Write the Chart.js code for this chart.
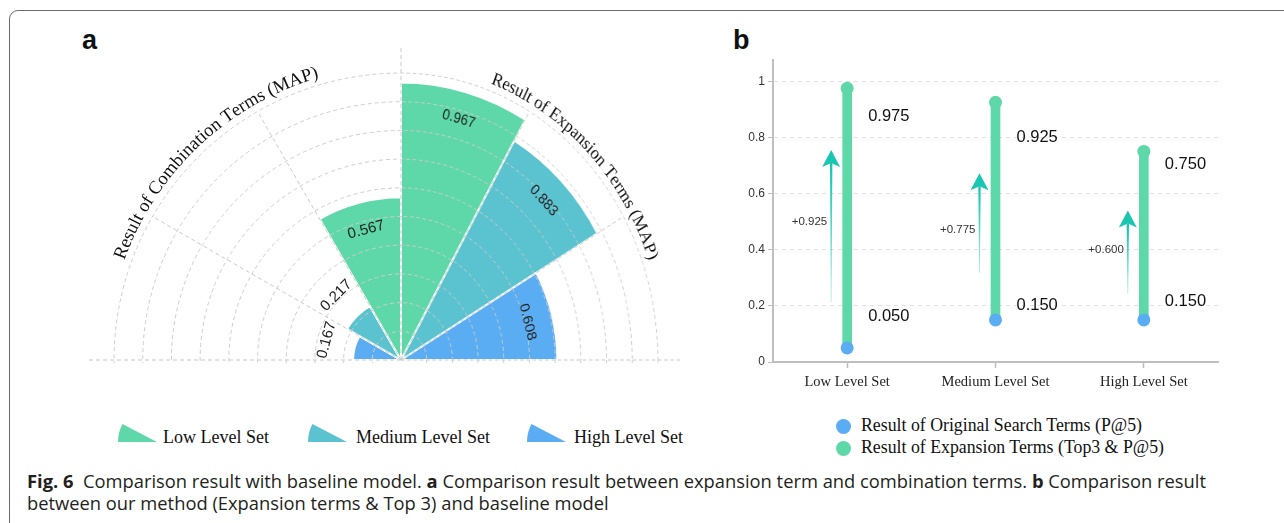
<!DOCTYPE html>
<html>
<head>
<meta charset="utf-8">
<script src="https://cdn.jsdelivr.net/npm/chart.js@4.4.1/dist/chart.umd.min.js"></script>
<style>
  html, body { margin: 0; padding: 0; background: #fff; }
  body { width: 1284px; height: 523px; position: relative; overflow: hidden; font-family: "Liberation Sans", Arial, sans-serif; }
  .frame { position: absolute; left: 9px; top: 10px; width: 1320px; height: 600px; border: 1.6px solid #6b6b6b; border-radius: 9px; box-sizing: border-box; }
  .tag { position: absolute; font: bold 27px "Liberation Sans", Arial, sans-serif; line-height: 27px; color: #111; }
  .half { position: absolute; top: 30px; height: 333px; overflow: hidden; }
  .half canvas { position: absolute; top: 0; }
  #dumbbell { position: absolute; left: 733px; top: 50px; }
  .leg { position: absolute; font-family: "Liberation Serif", "Times New Roman", serif; color: #111; white-space: nowrap; line-height: 1; }
  .leg svg { position: absolute; }
  .dot { position: absolute; width: 15px; height: 15px; border-radius: 50%; }
  .caption { position: absolute; left: 27px; top: 470px; font-family: "Open Sans", "Noto Sans", sans-serif; color: #231f20; white-space: nowrap; line-height: 22px; }
  .caption b { font-weight: 700; }
</style>
</head>
<body>
<div class="frame"></div>
<div class="tag" style="left:82px; top:27px;">a</div>
<div class="tag" style="left:733px; top:27px;">b</div>

<div class="half" style="left:71px; width:330px;"><canvas id="polarLeft" width="660" height="660" style="left:0;"></canvas></div>
<div class="half" style="left:401px; width:340px; transform:scaleX(0.895); transform-origin:0 0;"><canvas id="polarRight" width="660" height="660" style="left:-330px;"></canvas></div>

<canvas id="dumbbell" width="497" height="352"></canvas>

<div id="legendA"></div>
<div id="legendB"></div>

<div class="caption">
  <span id="cap1"><b>Fig. 6</b>&nbsp; Comparison result with baseline model. <b>a</b> Comparison result between expansion term and combination terms. <b>b</b> Comparison result</span><br>
  <span>between our method (Expansion terms &amp; Top 3) and baseline model</span>
</div>

<script>
// categories
const levelSets = ['Low Level Set', 'Medium Level Set', 'High Level Set'];
const levelColors = ['#5fd8a9', '#5bc3cf', '#5aadf2'];

// panel a: MAP per level set
const combinationMAP = [0.567, 0.217, 0.167];
const expansionMAP = [0.967, 0.883, 0.608];
const combinationTitle = 'Result of Combination Terms (MAP)';
const expansionTitle = 'Result of Expansion Terms (MAP)';

// panel b: P@5 per level set
const originalP5 = [0.050, 0.150, 0.150];
const expansionP5 = [0.975, 0.925, 0.750];
const originalLegend = 'Result of Original Search Terms (P@5)';
const expansionLegend = 'Result of Expansion Terms (Top3 & P@5)';
// annotation anchors (value units)
const arrowTail = [0.213, 0.316, 0.241];
const arrowTip = [0.755, 0.672, 0.540];
const gainLabelAt = [0.500, 0.472, 0.398];
const expLabelAt = [0.873, 0.799, 0.703];
const origLabelAt = [0.163, 0.202, 0.215];
const yTicks = [0, 0.2, 0.4, 0.6, 0.8, 1];

// polar order, left to right: combination (high..low) then expansion (low..high)
const polarValues = combinationMAP.slice().reverse().concat(expansionMAP);
const polarColors = levelColors.slice().reverse().concat(levelColors);
const polarLabels = levelSets.slice().reverse().map(s => 'Combination ' + s)
  .concat(levelSets.map(s => 'Expansion ' + s));

function drawArcText(ctx, text, cx, cy, radius, center) {
  const total = ctx.measureText(text).width;
  let a = center - total / radius / 2;
  for (const ch of text) {
    const w = ctx.measureText(ch).width;
    const ang = a + w / 2 / radius;
    ctx.save();
    ctx.translate(cx + radius * Math.cos(ang), cy + radius * Math.sin(ang));
    ctx.rotate(ang + Math.PI / 2);
    ctx.fillText(ch, 0, 0);
    ctx.restore();
    a += w / radius;
  }
}

const polarDecor = {
  id: 'polarDecor',
  afterDraw(chart) {
    const ctx = chart.ctx;
    const r = chart.scales.r;
    const cx = r.xCenter, cy = r.yCenter;
    const arcs = chart.getDatasetMeta(0).data;
    const ring = r.getDistanceFromCenterForValue(1);
    const axisEnd = r.getDistanceFromCenterForValue(1.09);

    // spokes at the slice edges, axes a bit longer
    ctx.save();
    ctx.strokeStyle = '#c9c9c9';
    ctx.lineWidth = 1;
    ctx.setLineDash([4, 3]);
    const edges = arcs.map(a => a.startAngle).concat(arcs[arcs.length - 1].endAngle);
    edges.forEach(ang => {
      const len = Math.abs(Math.sin(2 * ang)) < 1e-6 ? axisEnd : ring;
      ctx.beginPath();
      ctx.moveTo(cx, cy);
      ctx.lineTo(cx + len * Math.cos(ang), cy + len * Math.sin(ang));
      ctx.stroke();
    });
    ctx.restore();

    // value labels
    ctx.save();
    ctx.font = '15px "Liberation Sans", Arial, sans-serif';
    ctx.fillStyle = '#222';
    ctx.textAlign = 'center';
    ctx.textBaseline = 'middle';
    arcs.forEach((a, i) => {
      const mid = (a.startAngle + a.endAngle) / 2;
      const rl = a.outerRadius > 80 ? a.outerRadius - 28 : a.outerRadius + 29;
      ctx.save();
      ctx.translate(cx + rl * Math.cos(mid), cy + rl * Math.sin(mid));
      ctx.rotate(mid + Math.PI / 2);
      ctx.fillText(polarValues[i].toFixed(3), 0, 0);
      ctx.restore();
    });
    ctx.restore();

    // curved axis titles
    ctx.save();
    ctx.font = '18.5px "Liberation Serif", "Times New Roman", serif';
    ctx.fillStyle = '#111';
    ctx.textAlign = 'center';
    ctx.textBaseline = 'alphabetic';
    const titleR = r.getDistanceFromCenterForValue(1.025);
    const midOf = a => (a.startAngle + a.endAngle) / 2;
    const nudge = 1.7 * Math.PI / 180;
    drawArcText(ctx, combinationTitle, cx, cy, titleR, midOf(arcs[1]) + nudge);
    drawArcText(ctx, expansionTitle, cx, cy, titleR, midOf(arcs[4]));
    ctx.restore();
  }
};

function polarConfig() {
  return {
    type: 'polarArea',
    data: {
      labels: polarLabels,
      datasets: [{
        data: polarValues,
        backgroundColor: polarColors,
        borderColor: '#fff',
        borderWidth: 2,
        angle: 30
      }]
    },
    options: {
      responsive: false,
      animation: false,
      plugins: { legend: { display: false }, tooltip: { enabled: false } },
      scales: {
        r: {
          min: 0,
          max: 1.15,
          startAngle: -90,
          ticks: { display: false, stepSize: 0.1 },
          afterBuildTicks: s => { s.ticks = s.ticks.filter(t => t.value <= 1.0001); },
          grid: { color: '#cdcdcd', lineWidth: 1, z: 1 },
          border: { dash: [4, 3] },
          angleLines: { display: false },
          pointLabels: { display: false }
        }
      }
    },
    plugins: [polarDecor]
  };
}

new Chart(document.getElementById('polarLeft'), polarConfig());
new Chart(document.getElementById('polarRight'), polarConfig());

function drawArrow(ctx, x, yTail, yTip, color) {
  const headLen = 17, headHalf = 9, notch = 4;
  const yBase = yTip + headLen;
  const grad = ctx.createLinearGradient(0, yBase, 0, yTail);
  grad.addColorStop(0, color);
  grad.addColorStop(1, 'rgba(25,198,178,0.35)');
  ctx.fillStyle = grad;
  ctx.beginPath();
  ctx.moveTo(x - 1.2, yBase - notch);
  ctx.lineTo(x + 1.2, yBase - notch);
  ctx.lineTo(x + 0.35, yTail);
  ctx.lineTo(x - 0.35, yTail);
  ctx.closePath();
  ctx.fill();
  ctx.fillStyle = color;
  ctx.beginPath();
  ctx.moveTo(x, yTip);
  ctx.lineTo(x + headHalf, yBase);
  ctx.lineTo(x, yBase - notch);
  ctx.lineTo(x - headHalf, yBase);
  ctx.closePath();
  ctx.fill();
}

const dumbbellNotes = {
  id: 'dumbbellNotes',
  afterDatasetsDraw(chart) {
    const { ctx, scales: { x, y } } = chart;
    ctx.save();
    levelSets.forEach((name, i) => {
      const cx = x.getPixelForValue(i);
      const ax = cx - 16;
      drawArrow(ctx, ax, y.getPixelForValue(arrowTail[i]), y.getPixelForValue(arrowTip[i]), '#19c6b2');
      ctx.textBaseline = 'middle';
      ctx.font = '11.5px "Liberation Sans", Arial, sans-serif';
      ctx.fillStyle = '#333';
      ctx.textAlign = 'right';
      ctx.fillText('+' + (expansionP5[i] - originalP5[i]).toFixed(3), ax - 4, y.getPixelForValue(gainLabelAt[i]));
      ctx.font = '16.5px "Liberation Sans", Arial, sans-serif';
      ctx.fillStyle = '#111';
      ctx.textAlign = 'left';
      ctx.fillText(expansionP5[i].toFixed(3), cx + 21, y.getPixelForValue(expLabelAt[i]));
      ctx.fillText(originalP5[i].toFixed(3), cx + 21, y.getPixelForValue(origLabelAt[i]));
    });
    ctx.restore();
  }
};

new Chart(document.getElementById('dumbbell'), {
  type: 'bar',
  data: {
    labels: levelSets,
    datasets: [
      { type: 'line', label: originalLegend, data: originalP5, showLine: false,
        pointRadius: 6.5, pointBackgroundColor: levelColors[2], pointBorderWidth: 0, order: 1 },
      { type: 'line', label: expansionLegend, data: expansionP5, showLine: false,
        pointRadius: 6.5, pointBackgroundColor: levelColors[0], pointBorderWidth: 0, order: 1 },
      { type: 'bar', data: levelSets.map((_, i) => [originalP5[i], expansionP5[i]]),
        backgroundColor: levelColors[0], barThickness: 9, borderSkipped: false, order: 2 }
    ]
  },
  options: {
    responsive: false,
    animation: false,
    layout: { padding: { top: 9.5, right: 12, left: 0, bottom: 0 } },
    plugins: { legend: { display: false }, tooltip: { enabled: false } },
    scales: {
      x: {
        offset: true,
        grid: { offset: false, drawOnChartArea: false, tickLength: 6, tickColor: '#bdbdbd', tickWidth: 1.5 },
        border: { color: '#bfbfbf', width: 2 },
        ticks: { font: { family: '"Liberation Serif", "Times New Roman", serif', size: 14.5 }, color: '#222', padding: 5 },
        afterFit: s => { s.height = 40; }
      },
      y: {
        min: 0,
        max: 1.075,
        afterBuildTicks: s => { s.ticks = yTicks.map(v => ({ value: v })); },
        ticks: {
          font: { family: '"Liberation Sans", Arial, sans-serif', size: 12 },
          color: '#333',
          padding: 3,
          callback: v => String(Math.round(v * 10) / 10)
        },
        grid: { color: '#e2e2e2', tickLength: 5, tickColor: '#bdbdbd', tickBorderDash: [] },
        border: { color: '#bfbfbf', width: 2, dash: [4, 4] },
        afterFit: s => { s.width = 40; }
      }
    }
  },
  plugins: [dumbbellNotes]
});

// legend a: sector icons
const legendA = document.getElementById('legendA');
const iconX = [118, 308, 527];
const textX = [163, 356, 574];
levelSets.forEach((name, i) => {
  const item = document.createElement('div');
  item.className = 'leg';
  item.style.left = '0px';
  item.style.top = '0px';
  item.innerHTML =
    '<svg width="39" height="18" style="left:' + iconX[i] + 'px; top:424px;">' +
    '<path d="M39,18 L0,18 A39,39 0 0,1 4.4,0 Z" fill="' + levelColors[i] + '"/></svg>' +
    '<span style="position:absolute; left:' + textX[i] + 'px; top:428px; font-size:18px;">' + name + '</span>';
  legendA.appendChild(item);
});

// legend b: dots
const legendB = document.getElementById('legendB');
[[originalLegend, levelColors[2], 426], [expansionLegend, levelColors[0], 448]].forEach(([txt, col, cy]) => {
  const item = document.createElement('div');
  item.className = 'leg';
  item.innerHTML =
    '<div class="dot" style="left:836px; top:' + (cy - 7.5) + 'px; background:' + col + ';"></div>' +
    '<span style="position:absolute; left:861px; top:' + (cy - 9) + 'px; font-size:17.8px;"></span>';
  item.querySelector('span').textContent = txt;
  legendB.appendChild(item);
});

// caption: fit first line to the reference width
const cap = document.querySelector('.caption');
cap.style.fontSize = '16px';
const w = document.getElementById('cap1').getBoundingClientRect().width;
cap.style.fontSize = (16 * 1180 / w).toFixed(2) + 'px';
</script>
</body>
</html>
